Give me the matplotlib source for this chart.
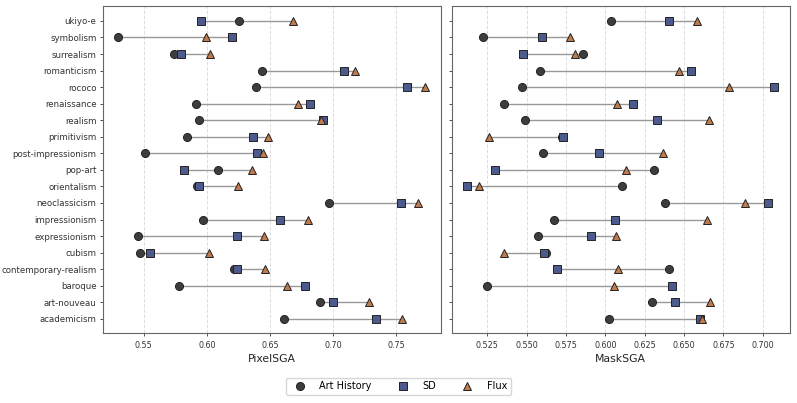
import numpy as np
import matplotlib.pyplot as plt
from matplotlib.lines import Line2D

# styles, bottom to top
styles = ["academicism", "art-nouveau", "baroque", "contemporary-realism", "cubism",
          "expressionism", "impressionism", "neoclassicism", "orientalism", "pop-art",
          "post-impressionism", "primitivism", "realism", "renaissance", "rococo",
          "romanticism", "surrealism", "symbolism", "ukiyo-e"]

# PixelSGA
pix_ah = [0.6613, 0.6897, 0.5776, 0.6213, 0.5471, 0.5450, 0.5968, 0.6963, 0.5924, 0.6089,
          0.5511, 0.5839, 0.5937, 0.5911, 0.6392, 0.6434, 0.5742, 0.5297, 0.6253]
pix_sd = [0.7337, 0.6997, 0.6774, 0.6239, 0.5545, 0.6239, 0.6579, 0.7534, 0.5934, 0.5821,
          0.6395, 0.6366, 0.6921, 0.6813, 0.7584, 0.7087, 0.5797, 0.6200, 0.5955]
pix_flux = [0.7545, 0.7284, 0.6637, 0.6461, 0.6018, 0.6455, 0.6803, 0.7671, 0.6245, 0.6355,
            0.6445, 0.6487, 0.6900, 0.6724, 0.7729, 0.7171, 0.6021, 0.5992, 0.6682]

# MaskSGA
mask_ah = [0.6024, 0.6295, 0.5248, 0.6405, 0.5622, 0.5570, 0.5671, 0.6376, 0.6105, 0.6312,
           0.5606, 0.5725, 0.5491, 0.5358, 0.5468, 0.5584, 0.5855, 0.5220, 0.6035]
mask_sd = [0.6600, 0.6443, 0.6422, 0.5692, 0.5608, 0.5912, 0.6060, 0.7030, 0.5123, 0.5301,
           0.5957, 0.5728, 0.6325, 0.6177, 0.7074, 0.6543, 0.5479, 0.5595, 0.6405]
mask_flux = [0.6615, 0.6664, 0.6054, 0.6081, 0.5354, 0.6069, 0.6647, 0.6890, 0.5199, 0.6128,
             0.6365, 0.5261, 0.6659, 0.6077, 0.6786, 0.6469, 0.5807, 0.5773, 0.6579]

c_ah = "#3d3d3d"
c_sd = "#4d5a8e"
c_flux = "#c07a4c"

fig, (ax1, ax2) = plt.subplots(1, 2, figsize=(7.97, 4.03), dpi=100, sharey=True)
fig.subplots_adjust(left=0.129, right=0.991, top=0.985, bottom=0.174, wspace=0.033)

y = np.arange(len(styles))

def draw(ax, ah, sd, fl, label):
    ah = np.array(ah); sd = np.array(sd); fl = np.array(fl)
    lo = np.minimum(np.minimum(ah, sd), fl)
    hi = np.maximum(np.maximum(ah, sd), fl)
    ax.hlines(y, lo, hi, color="#999999", lw=1, zorder=1)
    ax.plot(ah, y, "o", color=c_ah, mec="#222222", mew=0.7, ms=5.8, ls="none", zorder=3)
    ax.plot(sd, y, "s", color=c_sd, mec="#222222", mew=0.7, ms=5.5, ls="none", zorder=4)
    ax.plot(fl, y, "^", color=c_flux, mec="#222222", mew=0.7, ms=5.8, ls="none", zorder=5)
    ax.grid(axis="x", ls="--", color="#dddddd", lw=0.7)
    ax.set_axisbelow(True)
    ax.set_xlabel(label, fontsize=7.8, labelpad=3, color="#222222")
    ax.tick_params(axis="x", labelsize=5.8, colors="#333333", length=2.5, width=0.6)
    ax.tick_params(axis="y", labelsize=6.2, length=2.5, width=0.6, pad=2, colors="#333333")
    for s in ax.spines.values():
        s.set_color("#666666")

draw(ax1, pix_ah, pix_sd, pix_flux, "PixelSGA")
draw(ax2, mask_ah, mask_sd, mask_flux, "MaskSGA")
ax1.set_yticks(y)
ax1.set_yticklabels(styles)
ax1.set_ylim(-0.85, len(styles) - 0.1)
ax2.tick_params(axis="y", labelleft=False)

handles = [
    Line2D([], [], marker="o", ls="none", color=c_ah, mec="#222222", mew=0.7, ms=5.8, label="Art History"),
    Line2D([], [], marker="s", ls="none", color=c_sd, mec="#222222", mew=0.7, ms=5.5, label="SD"),
    Line2D([], [], marker="^", ls="none", color=c_flux, mec="#222222", mew=0.7, ms=5.8, label="Flux"),
]
fig.legend(handles=handles, loc="center", bbox_to_anchor=(0.5, 0.041), ncol=3,
           fontsize=7, frameon=True, columnspacing=2.2, handletextpad=1.0)

fig.savefig("out.png")
